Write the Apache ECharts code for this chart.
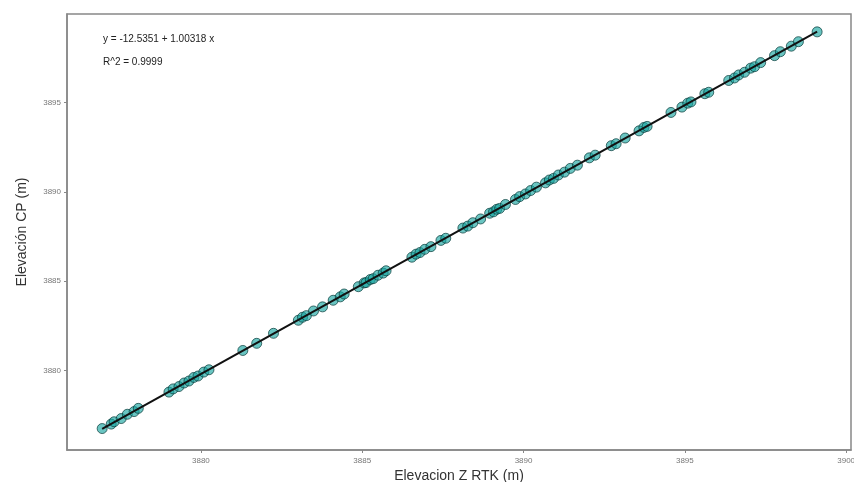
<!DOCTYPE html>
<html>
<head>
<meta charset="utf-8">
<script src="https://cdn.jsdelivr.net/npm/echarts@6/dist/echarts.min.js"></script>
<style>
  html, body { margin: 0; padding: 0; background: #fff; }
  #main { width: 854px; height: 482px; }
</style>
</head>
<body>
<div id="main"></div>
<script>
// puntos: Z RTK (x) vs CP (y)
var rtkZ = [3876.94, 3877.22, 3877.31, 3877.53, 3877.72, 3877.93, 3878.06, 3879.01, 3879.14, 3879.32,
  3879.48, 3879.63, 3879.78, 3879.91, 3880.09, 3880.25, 3881.30, 3881.73, 3882.25, 3883.02,
  3883.15, 3883.27, 3883.49, 3883.77, 3884.10, 3884.32, 3884.44, 3884.88, 3885.06, 3885.12,
  3885.25, 3885.34, 3885.49, 3885.65, 3885.74, 3886.54, 3886.67, 3886.79, 3886.94, 3887.13,
  3887.44, 3887.59, 3888.12, 3888.27, 3888.43, 3888.67, 3888.95, 3889.07, 3889.17, 3889.26,
  3889.44, 3889.75, 3889.88, 3890.06, 3890.22, 3890.40, 3890.68, 3890.80, 3890.93, 3891.08,
  3891.27, 3891.45, 3891.67, 3892.04, 3892.22, 3892.72, 3892.87, 3893.15, 3893.58, 3893.73,
  3893.83, 3894.57, 3894.91, 3895.09, 3895.19, 3895.62, 3895.74, 3896.36, 3896.54, 3896.67,
  3896.85, 3897.04, 3897.16, 3897.35, 3897.78, 3897.96, 3898.30, 3898.52, 3899.10];
var cpZ = [3876.75, 3877.00, 3877.13, 3877.31, 3877.55, 3877.70, 3877.88, 3878.79, 3878.97, 3879.10,
  3879.30, 3879.41, 3879.61, 3879.69, 3879.91, 3880.04, 3881.12, 3881.52, 3882.08, 3882.81,
  3882.98, 3883.07, 3883.33, 3883.56, 3883.93, 3884.12, 3884.28, 3884.69, 3884.90, 3884.92,
  3885.09, 3885.14, 3885.33, 3885.45, 3885.58, 3886.34, 3886.51, 3886.60, 3886.78, 3886.93,
  3887.28, 3887.40, 3887.97, 3888.08, 3888.27, 3888.48, 3888.80, 3888.88, 3889.02, 3889.07,
  3889.29, 3889.57, 3889.73, 3889.88, 3890.07, 3890.26, 3890.50, 3890.66, 3890.75, 3890.94,
  3891.10, 3891.31, 3891.49, 3891.90, 3892.05, 3892.58, 3892.69, 3893.01, 3893.41, 3893.60,
  3893.66, 3894.44, 3894.74, 3894.96, 3895.03, 3895.49, 3895.57, 3896.23, 3896.37, 3896.54,
  3896.69, 3896.92, 3897.00, 3897.23, 3897.62, 3897.84, 3898.15, 3898.40, 3898.95];
// recta de ajuste (extremos)
var fitX = [3876.94, 3899.10];
var fitY = [3876.73, 3898.96];
var eqText = ['y = -12.5351 + 1.00318 x', 'R^2 = 0.9999'];

var pts = [];
for (var i = 0; i < rtkZ.length; i++) pts.push([rtkZ[i], cpZ[i]]);
var fit = [[fitX[0], fitY[0]], [fitX[1], fitY[1]]];

var axisCommon = {
  type: 'value',
  splitNumber: 5,
  splitLine: { show: false },
  axisLine: { show: true, lineStyle: { color: '#888', width: 1.5 } },
  axisTick: { show: true, length: 3, lineStyle: { color: '#888' } },
  axisLabel: {
    color: '#777', fontSize: 8, fontFamily: 'Liberation Sans',
    showMinLabel: false, showMaxLabel: false,
    formatter: function(v) { return String(v); }
  },
  nameLocation: 'middle',
  nameMoveOverlap: false,
  nameTextStyle: { color: '#333', fontSize: 14, fontFamily: 'Liberation Sans' }
};

var myChart = echarts.init(document.getElementById('main'));
var option = {
  animation: false,
  grid: {
    left: 67, right: 3, top: 14, bottom: 32, containLabel: false, outerBoundsMode: 'none',
    show: true, borderColor: '#888', borderWidth: 1.5, backgroundColor: '#fff'
  },
  xAxis: echarts.util.merge({ min: 3875.85, max: 3900.15, name: 'Elevacion Z RTK (m)', nameGap: 19,
    axisLabel: { margin: 7 } }, axisCommon),
  yAxis: echarts.util.merge({ min: 3875.55, max: 3899.95, name: 'Elevación CP (m)', nameGap: 38,
    axisLabel: { margin: 6 } }, axisCommon),
  graphic: [
    { type: 'text', left: 103, top: 34, style: { text: eqText[0], fill: '#222', font: '10px "Liberation Sans"' } },
    { type: 'text', left: 103, top: 57, style: { text: eqText[1], fill: '#222', font: '10px "Liberation Sans"' } }
  ],
  series: [
    {
      type: 'scatter',
      data: pts,
      symbolSize: 10,
      itemStyle: { color: 'rgba(22,165,160,0.8)', borderColor: 'rgba(10,60,58,0.9)', borderWidth: 1 }
    },
    {
      type: 'line',
      data: fit,
      symbol: 'none',
      lineStyle: { color: '#111', width: 2 },
      z: 3
    }
  ]
};
myChart.setOption(option);
</script>
</body>
</html>
